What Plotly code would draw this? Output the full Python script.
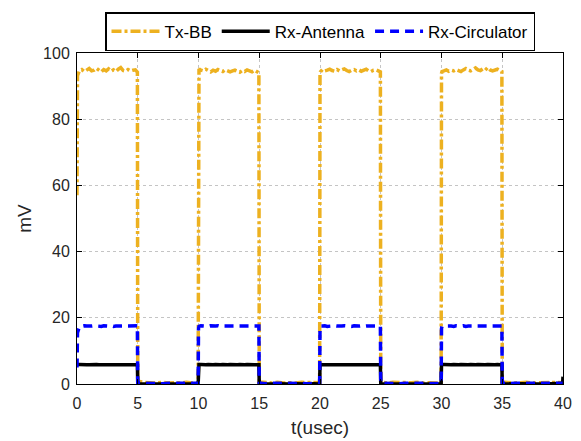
import plotly.graph_objects as go

# ---------------- data ----------------
pulse_starts = [0, 10, 20, 30]
on_offsets = [0.0, 0.04, 0.2, 0.4, 0.6, 0.8, 1.0, 1.2, 1.4, 1.6, 1.8, 2.0, 2.2, 2.4,
              2.6, 2.8, 3.0, 3.2, 3.4, 3.6, 3.8, 4.0, 4.2, 4.4, 4.6, 4.8, 4.97]
off_offsets = [5.0, 5.5, 6.0, 6.5, 7.0, 7.5, 8.0, 8.5, 9.0, 9.5, 9.97]

tx_on = [
    [57.0, 93.2, 94.6, 95.0, 94.4, 94.9, 95.3, 94.6, 94.8, 95.4, 94.7, 94.3, 95.0, 94.6,
     95.2, 94.5, 94.9, 94.4, 95.1, 95.6, 94.7, 94.5, 95.0, 94.6, 94.8, 94.9, 94.2],
    [93.0, 95.2, 94.8, 94.6, 95.1, 94.7, 94.3, 94.8, 94.5, 95.0, 94.6, 94.4, 94.9, 94.7,
     94.3, 94.6, 94.8, 94.5, 94.2, 94.7, 94.4, 94.9, 94.6, 94.3, 94.8, 94.5, 94.0],
    [93.5, 94.3, 95.0, 94.6, 94.8, 95.1, 94.7, 94.5, 95.0, 94.6, 94.9, 95.2, 94.7, 94.4,
     94.8, 95.0, 94.6, 94.9, 94.5, 94.7, 95.1, 94.6, 94.4, 94.8, 94.9, 94.6, 94.3],
    [93.8, 94.4, 94.6, 94.9, 94.5, 94.8, 94.6, 95.0, 94.7, 94.4, 94.9, 95.3, 94.8, 94.6,
     95.0, 95.5, 94.9, 94.7, 95.2, 94.8, 95.6, 94.9, 94.6, 94.8, 95.1, 94.7, 94.4],
]
tx_off = [
    [0.8, 0.5, 0.4, 0.3, 0.5, 0.3, 0.4, 0.3, 0.5, 0.3, 0.4],
    [0.6, 0.4, 0.3, 0.5, 0.3, 0.4, 0.3, 0.5, 0.4, 0.3, 0.4],
    [0.7, 0.3, 0.5, 0.4, 0.3, 0.4, 0.5, 0.3, 0.4, 0.3, 0.3],
    [0.6, 0.4, 0.3, 0.4, 0.5, 0.3, 0.4, 0.3, 0.4, 0.5, 0.4],
]

ant_on = [
    [5.8, 5.9, 5.9, 5.8, 5.9, 5.8, 5.8, 5.9, 5.8, 5.9, 5.8, 5.8, 5.9, 5.8,
     5.8, 5.9, 5.8, 5.8, 5.9, 5.8, 5.8, 5.8, 5.9, 5.8, 5.8, 5.8, 5.8],
    [5.7, 5.9, 5.9, 5.8, 5.8, 5.9, 5.8, 5.8, 5.9, 5.8, 5.8, 5.9, 5.8, 5.8,
     5.9, 5.8, 5.8, 5.8, 5.9, 5.8, 5.8, 5.9, 5.8, 5.8, 5.8, 5.8, 5.8],
    [5.7, 5.9, 5.8, 5.9, 5.8, 5.8, 5.9, 5.8, 5.8, 5.8, 5.9, 5.8, 5.8, 5.9,
     5.8, 5.8, 5.9, 5.8, 5.8, 5.8, 5.9, 5.8, 5.8, 5.9, 5.8, 5.8, 5.8],
    [5.7, 5.9, 5.9, 5.8, 5.8, 5.8, 5.9, 5.8, 5.8, 5.9, 5.8, 5.8, 5.8, 5.9,
     5.8, 5.8, 5.9, 5.8, 5.8, 5.8, 5.9, 5.8, 5.8, 5.8, 5.9, 5.8, 5.8],
]
ant_off = [
    [0.1, 0.0, 0.1, 0.0, 0.0, 0.1, 0.0, 0.0, 0.1, 0.0, 0.0],
    [0.1, 0.0, 0.0, 0.1, 0.0, 0.0, 0.1, 0.0, 0.0, 0.1, 0.0],
    [0.1, 0.0, 0.1, 0.0, 0.0, 0.0, 0.1, 0.0, 0.1, 0.0, 0.0],
    [0.1, 0.0, 0.0, 0.1, 0.0, 0.1, 0.0, 0.0, 0.1, 0.0, 0.2],
]
ant_end_t = [40.0]
ant_end_v = [2.2]

circ_on = [
    [5.0, 15.5, 17.3, 17.5, 17.6, 17.5, 17.4, 17.5, 17.6, 17.5, 17.5, 17.4, 17.6, 17.5,
     17.5, 17.6, 17.4, 17.5, 17.5, 17.6, 17.5, 17.4, 17.5, 17.6, 17.5, 17.5, 17.6],
    [16.8, 17.4, 17.6, 17.5, 17.5, 17.4, 17.6, 17.5, 17.5, 17.6, 17.4, 17.5, 17.5, 17.6,
     17.5, 17.4, 17.5, 17.6, 17.5, 17.5, 17.4, 17.6, 17.5, 17.5, 17.6, 17.5, 17.5],
    [16.8, 17.5, 17.5, 17.6, 17.4, 17.5, 17.5, 17.6, 17.5, 17.4, 17.5, 17.6, 17.5, 17.5,
     17.4, 17.6, 17.5, 17.5, 17.6, 17.4, 17.5, 17.5, 17.6, 17.5, 17.4, 17.5, 17.5],
    [16.8, 17.4, 17.5, 17.6, 17.5, 17.5, 17.4, 17.6, 17.5, 17.5, 17.6, 17.4, 17.5, 17.5,
     17.6, 17.5, 17.4, 17.5, 17.6, 17.5, 17.5, 17.4, 17.6, 17.5, 17.5, 17.6, 17.5],
]
circ_off = [
    [0.3, 0.2, 0.1, 0.2, 0.1, 0.2, 0.2, 0.1, 0.2, 0.1, 0.2],
    [0.3, 0.1, 0.2, 0.1, 0.2, 0.2, 0.1, 0.2, 0.1, 0.2, 0.2],
    [0.3, 0.2, 0.2, 0.1, 0.2, 0.1, 0.2, 0.2, 0.1, 0.2, 0.1],
    [0.3, 0.1, 0.2, 0.2, 0.1, 0.2, 0.1, 0.2, 0.2, 0.1, 0.2],
]

x_ticks = [0, 5, 10, 15, 20, 25, 30, 35, 40]
y_ticks = [0, 20, 40, 60, 80, 100]


def build(on_vals, off_vals, extra_t=(), extra_v=()):
    t, v = [], []
    for s, on, off in zip(pulse_starts, on_vals, off_vals):
        t += [s + o for o in on_offsets] + [s + o for o in off_offsets]
        v += list(on) + list(off)
    t += list(extra_t)
    v += list(extra_v)
    return t, v


tx_t, tx_v = build(tx_on, tx_off)
ant_t, ant_v = build(ant_on, ant_off, ant_end_t, ant_end_v)
circ_t, circ_v = build(circ_on, circ_off)

fig = go.Figure()
fig.add_trace(go.Scatter(x=tx_t, y=tx_v, mode="lines", name="Tx-BB",
                         line=dict(color="#EDB120", width=3.5, dash="10px,3px,3px,3px")))
fig.add_trace(go.Scatter(x=ant_t, y=ant_v, mode="lines", name="Rx-Antenna",
                         line=dict(color="black", width=3.5)))
fig.add_trace(go.Scatter(x=circ_t, y=circ_v, mode="lines", name="Rx-Circulator",
                         line=dict(color="blue", width=3.5, dash="9px,6px")))

axis_common = dict(
    showline=True, linecolor="black", linewidth=1, mirror="ticks",
    ticks="inside", ticklen=5, tickcolor="black",
    showgrid=True, gridcolor="#c4c4c4", griddash="dot", gridwidth=1,
    zeroline=False, automargin=False,
    tickfont=dict(family="Liberation Sans, Arial", size=16, color="#262626"),
)

fig.update_layout(
    width=581, height=441,
    margin=dict(l=77, r=18, t=48, b=57),
    paper_bgcolor="white", plot_bgcolor="white",
    font=dict(family="Liberation Sans, Arial", color="#262626"),
    xaxis=dict(range=[0, 40], tickvals=x_ticks, ticklabelstandoff=5,
               title=dict(text="t(usec)", font=dict(size=19), standoff=9),
               **axis_common),
    yaxis=dict(range=[0, 100], tickvals=y_ticks, ticklabelstandoff=3,
               title=dict(text="mV", font=dict(size=19), standoff=6),
               **axis_common),
    legend=dict(orientation="h", x=0.5, xanchor="center", y=1.123, yanchor="top",
                bordercolor="black", borderwidth=1.5, bgcolor="white",
                font=dict(size=17, color="black"), itemwidth=48,
                tracegroupgap=0),
    showlegend=True,
)

fig.write_html("out.html")
